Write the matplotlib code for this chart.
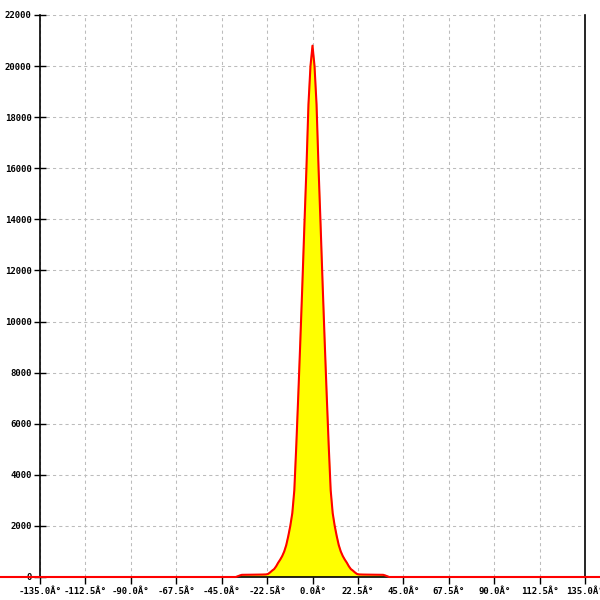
import numpy as np
import matplotlib
matplotlib.use('Agg')
import matplotlib.pyplot as plt

# angle bins (degrees) and counts
angles = [-180, -40, -38, -37, -36, -35, -30, -25, -23, -22, -21, -20, -19, -18, -17, -16,
          -15, -14, -13, -12, -11, -10, -9, -8, -7, -6, -5, -4, -3, -2, -1,
          0, 1, 2, 3, 4, 5, 6, 7, 8, 9, 10, 11, 12, 13, 14, 15, 16, 17, 18, 19,
          20, 21, 22, 23, 25, 30, 35, 36, 37, 38, 40, 180]
counts = [0, 0, 0, 30, 60, 85, 90, 95, 100, 120, 180, 250, 310, 420, 560, 680,
          820, 1000, 1250, 1600, 2000, 2500, 3400, 5200, 7200, 9300, 11500, 13800, 16000, 18500, 20000,
          20800, 20000, 18500, 16000, 13800, 11500, 9300, 7200, 5200, 3400, 2500, 2000, 1600, 1250, 1000, 820, 680, 560, 420, 310,
          250, 180, 120, 100, 95, 90, 85, 60, 30, 0, 0, 0]

xticks = np.arange(-135, 136, 22.5)
xticklabels = ['%.1f\u00c2\u00b0' % t for t in xticks]
yticks = np.arange(0, 22001, 2000)

fig = plt.figure(figsize=(6, 6), dpi=100)
ax = fig.add_axes([40 / 600, 23 / 600, 545 / 600, 562 / 600])

ax.fill_between(angles, counts, color='#ffff00', zorder=2)
ax.plot(angles, counts, color='#ff0000', lw=1.5, zorder=3, clip_on=False)

ax.set_xlim(-135, 135)
ax.set_ylim(0, 22000)
ax.set_xticks(xticks)
ax.set_xticklabels(xticklabels)
ax.set_yticks(yticks)
ax.set_yticklabels([str(v) for v in yticks])

for lab in ax.get_xticklabels() + ax.get_yticklabels():
    lab.set_family('DejaVu Sans Mono')
    lab.set_fontsize(6.5)
    lab.set_fontweight('bold')

ax.tick_params(axis='x', direction='out', length=5, width=1, pad=2, colors='black')
ax.tick_params(axis='y', direction='inout', length=8, width=1, pad=2, colors='black')

ax.grid(True, color='#bcbcbc', linestyle=(0, (3, 3)), linewidth=0.75, zorder=0)
ax.set_axisbelow(True)

ax.spines['top'].set_visible(False)
for s in ['left', 'right', 'bottom']:
    ax.spines[s].set_color('black')
    ax.spines[s].set_linewidth(1.2)

plt.savefig('out.png', dpi=100)
plt.close()
